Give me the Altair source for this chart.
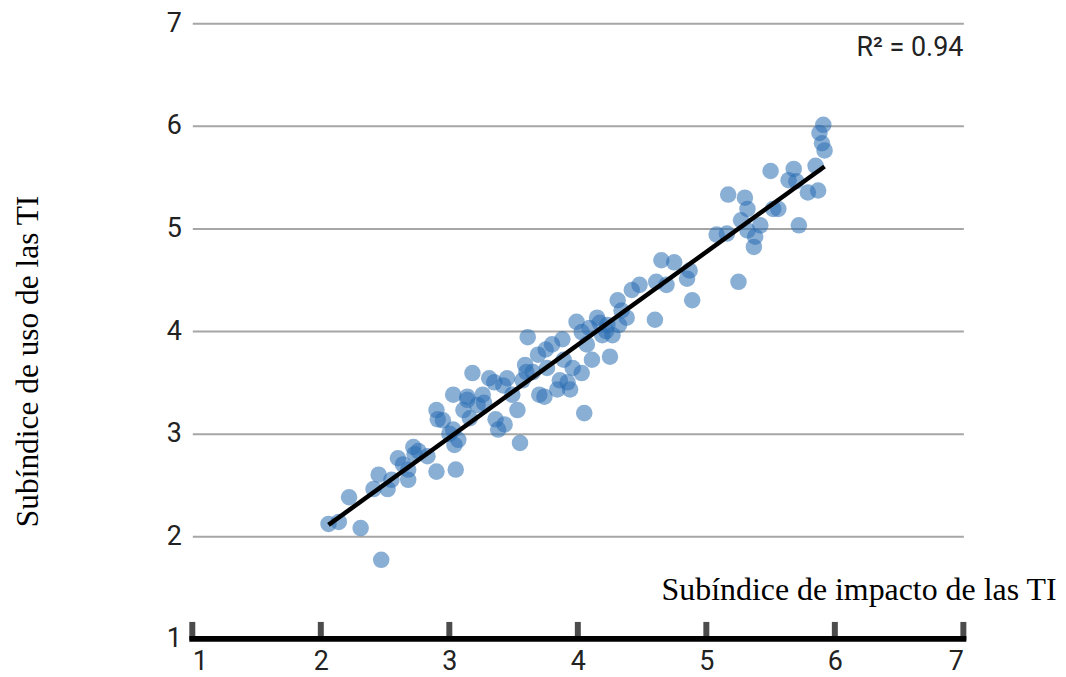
import altair as alt
import pandas as pd

# Subíndice de impacto de las TI (x) and Subíndice de uso de las TI (y)
impacto = [2.06, 2.14, 2.22, 2.31, 2.41, 2.45, 2.47, 2.52, 2.55, 2.60, 2.64, 2.68,
           2.72, 2.73, 2.76, 2.68, 2.90, 2.90, 2.91, 2.95, 3.03, 3.03, 3.04, 3.05,
           3.07, 3.11, 3.14, 3.18, 3.16, 3.22, 3.26, 3.31, 3.36, 3.38, 3.42, 3.45,
           3.43, 3.49, 3.53, 3.55, 3.57, 3.59, 3.61, 3.65, 3.69, 3.70, 3.75, 3.76,
           3.80, 3.84, 3.86, 3.88, 3.89, 3.92, 3.96, 3.99, 4.03, 4.05, 4.03, 4.07,
           4.09, 4.11, 4.15, 4.19, 4.23, 4.25, 4.27, 4.31, 4.32, 4.34, 4.38, 4.42,
           4.48, 4.60, 4.61, 4.65, 4.69, 4.75, 4.85, 4.87, 4.89, 5.08, 5.16, 5.17,
           5.25, 5.27, 5.30, 5.32, 5.32, 5.37, 5.38, 5.42, 5.50, 5.52, 5.56, 5.64,
           5.68, 5.70, 5.72, 5.79, 5.85, 5.87, 5.88, 5.90, 5.91, 5.92,
           3.14, 3.27, 3.35, 3.74, 3.94, 2.83, 3.00, 3.60, 4.17, 4.22]
uso = [2.12, 2.14, 2.38, 2.08, 2.46, 2.60, 1.77, 2.46, 2.55, 2.76, 2.70, 2.55,
       2.87, 2.80, 2.83, 2.65, 2.63, 3.23, 3.14, 3.13, 3.38, 3.04, 2.89, 2.65,
       2.94, 3.23, 3.33, 3.59, 3.15, 3.28, 3.38, 3.54, 3.14, 3.04, 3.47, 3.54,
       3.09, 3.38, 3.23, 2.91, 3.52, 3.67, 3.94, 3.60, 3.77, 3.38, 3.82, 3.64,
       3.87, 3.43, 3.52, 3.92, 3.72, 3.50, 3.64, 4.09, 3.99, 3.20, 3.59, 3.87,
       4.03, 3.72, 4.13, 3.96, 4.06, 3.75, 3.96, 4.30, 4.06, 4.20, 4.13, 4.40,
       4.45, 4.11, 4.48, 4.69, 4.45, 4.67, 4.51, 4.59, 4.30, 4.94, 4.95, 5.33,
       4.48, 5.08, 5.30, 5.19, 4.98, 4.82, 4.92, 5.03, 5.56, 5.19, 5.19, 5.47,
       5.58, 5.46, 5.03, 5.35, 5.61, 5.37, 5.93, 5.83, 6.01, 5.76,
       3.36, 3.30, 3.50, 3.36, 3.43, 2.78, 3.00, 3.60, 4.08, 4.00]
ejes = [1, 2, 3, 4, 5, 6, 7]

pts = pd.DataFrame({"x": impacto, "y": uso})
ticks = pd.DataFrame({"t": ejes})

LABEL_FONT = "Liberation Sans Narrow, Roboto, Liberation Sans, sans-serif"
SERIF = "Liberation Serif, Times New Roman, serif"

xaxis = alt.Axis(values=ejes, format="d", grid=False, domain=False, ticks=False,
                 labelPadding=10,
                 labelFont=LABEL_FONT, labelFontSize=27, labelColor="#222222",
                 title="Subíndice de impacto de las TI", titleFont=SERIF,
                 titleFontSize=32, titleFontWeight="normal", titleColor="#000000",
                 titleAnchor="start", titleAlign="right", titleBaseline="alphabetic",
                 titleX=867, titleY=-40)
yaxis = alt.Axis(values=ejes, format="d", grid=True, gridColor="#a6a6a6", gridWidth=2,
                 domain=False, ticks=False, labelPadding=11,
                 labelFont=LABEL_FONT, labelFontSize=27, labelColor="#222222",
                 title="Subíndice de uso de las TI", titleFont=SERIF,
                 titleFontSize=31.5, titleFontWeight="normal", titleColor="#000000",
                 titleAngle=270, titleAlign="center", titleBaseline="alphabetic",
                 titleX=-155, titleY=339)
xscale = alt.Scale(domain=[1, 7], nice=False, zero=False)
yscale = alt.Scale(domain=[1, 7], nice=False, zero=False)

points = alt.Chart(pts).mark_circle(size=275, color="#2a6db3", opacity=0.55).encode(
    x=alt.X("x:Q", scale=xscale, axis=xaxis),
    y=alt.Y("y:Q", scale=yscale, axis=yaxis),
)

fit = alt.Chart(pts).transform_regression("x", "y").mark_line(
    color="#000000", strokeWidth=4.5).encode(
    x=alt.X("x:Q", scale=xscale, axis=xaxis),
    y=alt.Y("y:Q", scale=yscale, axis=yaxis),
)

axis_line = alt.Chart(ticks).mark_rule(color="#000000", strokeWidth=6, strokeCap="square").encode(
    x=alt.X("min(t):Q", scale=xscale, axis=xaxis),
    x2="max(t):Q",
    y=alt.datum(1),
)

axis_ticks = alt.Chart(ticks).mark_tick(color="#000000", orient="vertical", size=18,
                                        thickness=6, yOffset=-8).encode(
    x=alt.X("t:Q", scale=xscale, axis=xaxis),
    y=alt.datum(1),
)

r2 = alt.Chart(pts).mark_text(text="R² = 0.94", align="right", baseline="alphabetic",
                              font=LABEL_FONT, fontSize=27, color="#222222").encode(
    x=alt.value(774), y=alt.value(33)
).transform_aggregate(n="count()")

chart = alt.layer(points, fit, axis_line, axis_ticks, r2).properties(
    width=774, height=618,
    padding={"left": 185, "top": 14, "right": 95, "bottom": 37},
    autosize=alt.AutoSizeParams(type="none"),
).configure_view(stroke=None)

chart.save("out.html", embed_options={"renderer": "svg", "actions": False})
